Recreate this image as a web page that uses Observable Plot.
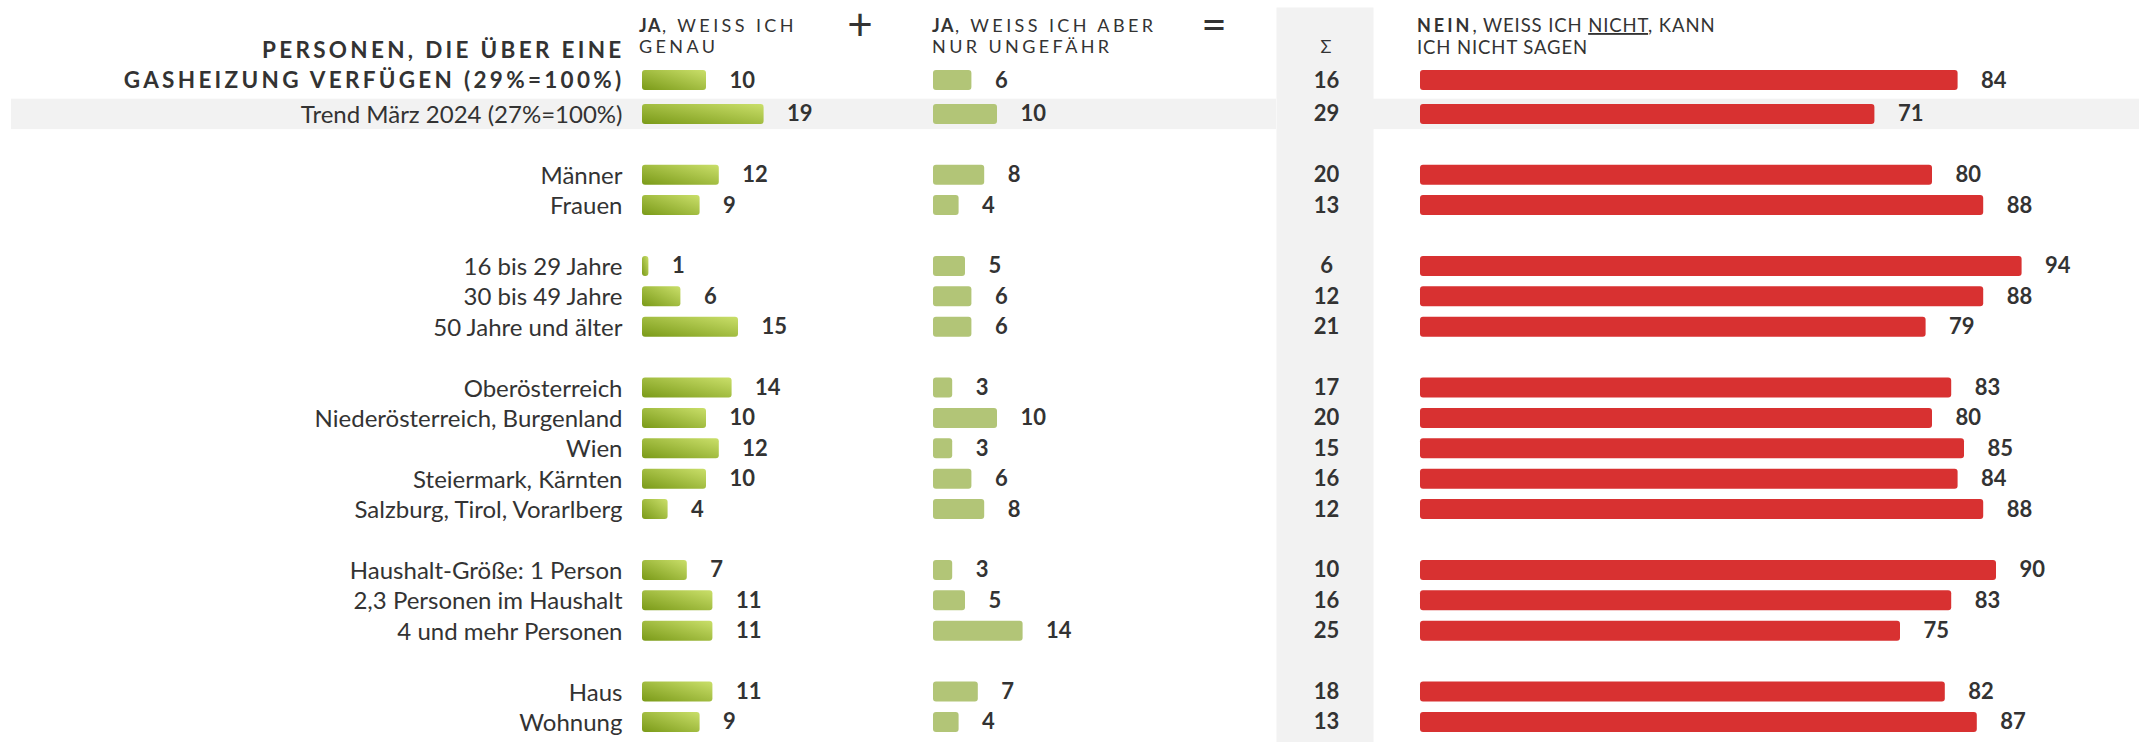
<!DOCTYPE html>
<html><head><meta charset="utf-8">
<script src="https://cdn.jsdelivr.net/npm/d3@7"></script>
<script src="https://cdn.jsdelivr.net/npm/@observablehq/plot@0.6"></script>
<style>
body{margin:0;background:#fff;font-family:Lato,"Noto Sans",sans-serif;}
#chart{display:flex;width:2139px;height:742px;}
#chart svg{display:block;flex:none;max-width:none;overflow:visible;}
</style></head><body><div id="chart"></div>
<script>
// ---------- data ----------
const labels = [
  "PERSONEN, DIE ÜBER EINE\nGASHEIZUNG VERFÜGEN (29%=100%)",
  "Trend März 2024 (27%=100%)",
  "Männer", "Frauen",
  "16 bis 29 Jahre", "30 bis 49 Jahre", "50 Jahre und älter",
  "Oberösterreich", "Niederösterreich, Burgenland", "Wien", "Steiermark, Kärnten", "Salzburg, Tirol, Vorarlberg",
  "Haushalt-Größe: 1 Person", "2,3 Personen im Haushalt", "4 und mehr Personen",
  "Haus", "Wohnung"
];
const groupOf     = [0,0,1,1,2,2,2,3,3,3,3,3,4,4,4,5,5];
const jaGenau     = [10,19,12, 9, 1, 6,15,14,10,12,10, 4, 7,11,11,11, 9];
const jaUngefaehr = [ 6,10, 8, 4, 5, 6, 6, 3,10, 3, 6, 8, 3, 5,14, 7, 4];
const summe       = [16,29,20,13, 6,12,21,17,20,15,16,12,10,16,25,18,13];
const nein        = [84,71,80,88,94,88,79,83,80,85,84,88,90,83,75,82,87];
const highlightedRows = [1];

const headerGenau = [[{t:"JA", b:1}, {t:", WEISS ICH"}], [{t:"GENAU"}]];
const headerUngefaehr = [[{t:"JA", b:1}, {t:", WEISS ICH ABER"}], [{t:"NUR UNGEFÄHR"}]];
const headerSumme = "Σ";
const headerNein = [[{t:"NEIN", b:1}, {t:", WEISS ICH "}, {t:"NICHT", u:1}, {t:", KANN"}], [{t:"ICH NICHT SAGEN"}]];
const signPlus = "+", signEquals = "=";

// ---------- layout / style ----------
const H = 742, PX = 6.4, PITCH = 30.4, FIRST = 83.5, FIRST_DY = -3.5;
const TXT = "#333", GREY = "#f2f2f2";
const C_UNG = "#b2c577", C_NEIN = "#d83131";

const rows = labels.map((label, i) => ({
  id: "r" + i, label, group: groupOf[i], hi: highlightedRows.includes(i),
  ja: jaGenau[i], ung: jaUngefaehr[i], sum: summe[i], nein: nein[i]
}));
const slots = [];
rows.forEach((r, i) => { if (i > 0 && r.group !== rows[i-1].group) slots.push("gap" + r.group); slots.push(r.id); });
const yTop = FIRST - PITCH / 2;
const yScale = {type: "band", domain: slots, range: [yTop, yTop + slots.length * PITCH], padding: 0, round: false, axis: null};
const style = {fontFamily: "Lato, sans-serif", fontSize: "22px", color: TXT, background: "transparent"};
const parts = [[rows.slice(0, 1), FIRST_DY], [rows.slice(1), 0]];
const band = Plot.cell(rows.filter(r => r.hi), {y: "id", fill: GREY});

function colMarks(key, fill) {
  return parts.flatMap(([d, dy]) => [
    Plot.barX(d, {x: key, y: "id", fill, insetTop: 5.2, insetBottom: 5.2, rx: 3, dy}),
    Plot.text(d, {x: key, y: "id", text: key, dx: 23, dy: dy, textAnchor: "start",
      fontSize: 22, fontWeight: 700, fill: TXT})
  ]);
}
function panel(width, start, marks, extra = {}) {
  return Plot.plot({
    width, height: H, marginTop: 0, marginBottom: 0, marginLeft: 0, marginRight: 0,
    x: start == null ? {axis: null} : {domain: [0, (width - start) / PX], range: [start, width], axis: null},
    y: yScale, style, marks, ...extra
  });
}
function rich(svg, x, y, lines, opt = {}) {
  const lh = opt.lh || 21;
  lines.forEach((line, k) => {
    const t = d3.select(svg).append("text").attr("x", x).attr("y", y + k * lh)
      .attr("text-anchor", "start").attr("fill", TXT).style("font-family", "Lato, sans-serif");
    for (const p of line) {
      const s = t.append("tspan").text(p.t)
        .attr("font-size", p.b ? (opt.bs || 18) : (opt.rs || 18))
        .attr("font-weight", p.b ? 700 : 400)
        .style("letter-spacing", (p.b ? (opt.bls ?? 1.5) : (opt.rls ?? 3.4)) + "px");
      if (p.u) s.attr("text-decoration", "underline");
    }
  });
}
function sign(svg, x, y, s) {
  d3.select(svg).append("text").attr("x", x).attr("y", y).attr("text-anchor", "middle")
    .attr("font-size", 44).attr("fill", TXT).style("font-family", "Lato, sans-serif").text(s);
}

// ---------- panels ----------
const labelPlot = panel(630, null, [
  band,
  Plot.text(rows.slice(1), {y: "id", text: "label", frameAnchor: "right", textAnchor: "end",
    dx: -8, dy: 1, fontSize: 24, fill: TXT}),
  Plot.text(rows.slice(0, 1), {y: "id", text: "label", frameAnchor: "right", textAnchor: "end",
    dx: -6, dy: FIRST_DY + 7, lineAnchor: "bottom", lineHeight: 1.3, fontSize: 22.5, fontWeight: 700,
    fill: TXT})
], {marginLeft: 11});
d3.select(labelPlot).selectAll("text")
  .filter(function() { return this.textContent.includes("GASHEIZUNG"); })
  .style("letter-spacing", "3.3px");

const genauPlot = panel(295, 12, [band, ...colMarks("ja", "url(#gradJa)")]);
d3.select(genauPlot).insert("defs", ":first-child").html(
  '<linearGradient id="gradJa" x1="0" y1="1" x2="1" y2="0">' +
  '<stop offset="0" stop-color="#7a9a18"/><stop offset="1" stop-color="#cadf6a"/></linearGradient>');
rich(genauPlot, 9, 32, headerGenau);
sign(genauPlot, 230, 40, signPlus);

const ungPlot = panel(351, 8, [band, ...colMarks("ung", C_UNG)]);
rich(ungPlot, 7, 32, headerUngefaehr);
sign(ungPlot, 289, 40, signEquals);

const sumPlot = panel(97, null, [
  Plot.frame({fill: GREY, stroke: "none"}),
  ...parts.map(([d, dy]) => Plot.text(d, {y: "id", text: "sum", frameAnchor: "middle", dx: 1.5, dy: dy,
    fontSize: 22, fontWeight: 700, fill: TXT}))
], {marginTop: 7});
d3.select(sumPlot).append("text").attr("x", 50).attr("y", 53).attr("text-anchor", "middle")
  .attr("font-size", 18).attr("fill", TXT).style("font-family", "Lato, sans-serif").text(headerSumme);

const neinPlot = panel(766, 47, [band, ...colMarks("nein", C_NEIN)]);
rich(neinPlot, 44, 32, headerNein, {lh: 22, rs: 18.5, rls: 0.9, bls: 3});

const root = document.getElementById("chart");
[labelPlot, genauPlot, ungPlot, sumPlot, neinPlot].forEach(p => root.appendChild(p));
</script></body></html>
